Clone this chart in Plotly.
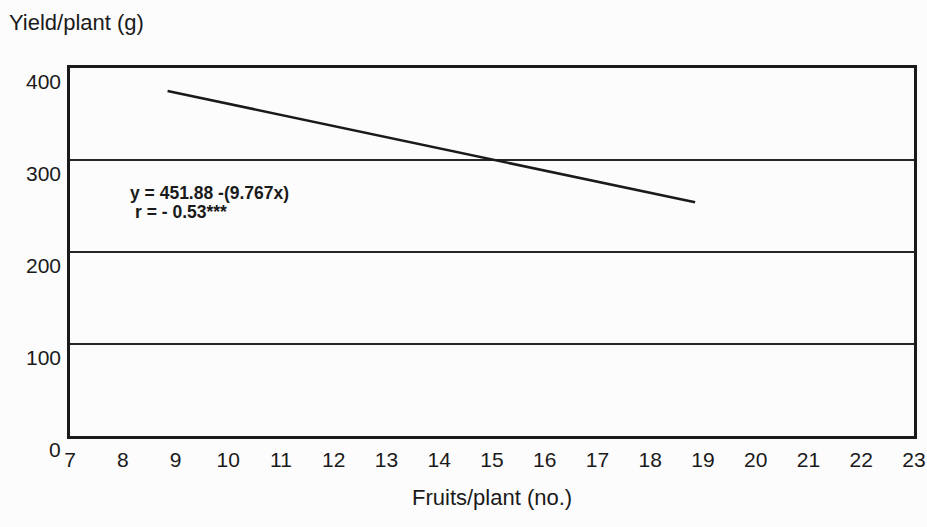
import plotly.graph_objects as go

# Fitted regression segment: yield per plant against fruits per plant
fruits_ends = [8.85, 18.85]
yield_ends = [375, 254]

x_ticks = list(range(7, 24))
y_ticks = [0, 100, 200, 300, 400]

equation_text = "y = 451.88 -(9.767x)"
r_text = "r = - 0.53***"

FONT = "Liberation Sans, Arial, sans-serif"
INK = "#1a1a1a"

fig = go.Figure()

fig.add_trace(go.Scatter(
    x=fruits_ends, y=yield_ends, mode="lines",
    line=dict(color=INK, width=2.6),
    showlegend=False, hoverinfo="skip",
))

fig.update_layout(
    width=927, height=527,
    margin=dict(l=70, r=13, t=68, b=91, autoexpand=False),
    paper_bgcolor="#fcfcfc", plot_bgcolor="#fcfcfc",
    font=dict(family=FONT, size=21, color=INK),
    showlegend=False,
)

fig.update_xaxes(
    range=[7, 23], tickmode="array", tickvals=x_ticks,
    ticktext=[str(v) for v in x_ticks],
    ticks="", showgrid=False, zeroline=False, automargin=False,
    showline=True, linecolor=INK, linewidth=3, mirror=True,
    tickfont=dict(family=FONT, size=21, color=INK),
    ticklabelstandoff=3, ticklabeloverflow="allow",
)

fig.update_yaxes(
    range=[0, 400], tickmode="array", tickvals=y_ticks,
    showticklabels=False, ticks="", automargin=False,
    showgrid=True, gridcolor="#262626", gridwidth=1.6, zeroline=False,
    showline=True, linecolor=INK, linewidth=3, mirror=True,
)

# Y tick labels sit just below their grid lines
for v in y_ticks:
    fig.add_annotation(
        x=0, xref="paper", y=v, yref="y", text=str(v),
        showarrow=False, xanchor="right", yanchor="middle",
        xshift=-7, yshift=-13,
        font=dict(family=FONT, size=21, color=INK),
    )

fig.add_annotation(
    x=0, y=1, xref="paper", yref="paper", text="Yield/plant (g)",
    showarrow=False, xanchor="left", yanchor="middle",
    xshift=-63, yshift=46,
    font=dict(family=FONT, size=22, color=INK),
)

fig.add_annotation(
    x=0.5, y=0, xref="paper", yref="paper", text="Fruits/plant (no.)",
    showarrow=False, xanchor="center", yanchor="middle",
    yshift=-61,
    font=dict(family=FONT, size=22, color=INK),
)

fig.add_annotation(
    x=8.1, y=264, xref="x", yref="y", text="<b>" + equation_text + "</b>",
    showarrow=False, xanchor="left", yanchor="middle",
    font=dict(family=FONT, size=17.5, color=INK),
)
fig.add_annotation(
    x=8.2, y=243, xref="x", yref="y", text="<b>" + r_text + "</b>",
    showarrow=False, xanchor="left", yanchor="middle",
    font=dict(family=FONT, size=17.5, color=INK),
)

fig.write_html("out.html")
